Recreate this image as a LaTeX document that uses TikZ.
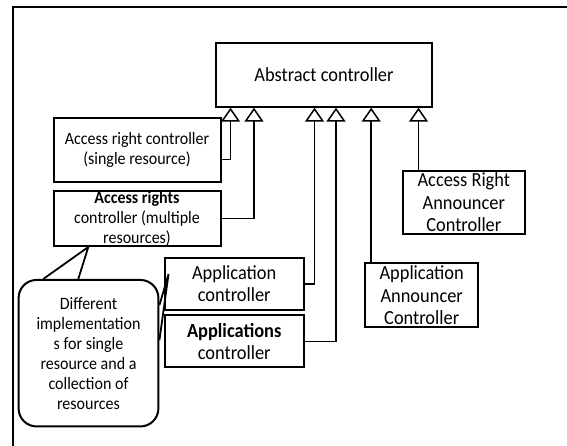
\documentclass[tikz,border=0pt]{standalone}
\usepackage{fontspec}
\setmainfont[FakeStretch=0.92]{Carlito}
\usetikzlibrary{arrows.meta}

\begin{document}
\begin{tikzpicture}[x=1pt,y=-1pt]
	\tikzstyle{ctrl}=[draw,line width=2pt,align=center,inner sep=0pt,font=\fontsize{20}{22.5}\selectfont]
	\tikzstyle{small}=[font=\fontsize{17.4}{20}\selectfont]
	\tikzstyle{callout}=[ctrl,small,rounded corners=18pt]
	\tikzstyle{inh}=[line width=1.5pt,-{Triangle[open,length=14pt 0,width=19pt 0]}]

	\useasboundingbox (0,0) rectangle (567,445);
	\draw[line width=2pt] (13,6.7) rectangle (600,480);

	\node[ctrl,minimum width=216pt,minimum height=64pt] (abstract) at (324,74.7) {Abstract controller};
	\node[ctrl,small,minimum width=167pt,minimum height=64pt] (single) at (137,149.7) {Access right controller\\(single resource)};
	\node[ctrl,small,minimum width=167pt,minimum height=54pt] (multi) at (137,218.7) {\textbf{Access rights}\\controller (multiple\\resources)};
	\node[ctrl,minimum width=139.3pt,minimum height=51.6pt] (appc) at (234.2,283.8) {Application\\controller};
	\node[ctrl,minimum width=139.3pt,minimum height=52.3pt] (appsc) at (234.2,341.3) {\textbf{Applications}\\controller};
	\node[ctrl,minimum width=112.5pt,minimum height=63.7pt] (appann) at (421.7,295.2) {Application\\Announcer\\Controller};
	\node[ctrl,minimum width=122.4pt,minimum height=63.3pt] (arann) at (463.8,202.3) {Access Right\\Announcer\\Controller};
	\node[callout,minimum width=139.8pt,minimum height=146.5pt] (note) at (88.5,353.2) {Different\\implementation\\s for single\\resource and a\\collection of\\resources};

	% inheritance
	\draw[inh] ([yshift=-9.6pt]single.east) -| ([xshift=-93.5pt]abstract.south);
	\draw[inh] (multi.east) -| ([xshift=-70pt]abstract.south);
	\draw[inh] (appc.east) -| ([xshift=-9.5pt]abstract.south);
	\draw[inh] (appsc.east) -| ([xshift=12pt]abstract.south);
	\draw[inh] ([xshift=-50.5pt]appann.north) -- ([xshift=47.2pt]abstract.south);
	\draw[inh] ([xshift=-45.3pt]arann.north) -- ([xshift=94.5pt]abstract.south);

	% callout pointers
	\coordinate (tipa) at ([xshift=-48.7pt]multi.south);
	\coordinate (tipb) at ([xshift=5pt,yshift=9.8pt]appc.west);
	\draw[line width=1.8pt] ([xshift=-45.2pt]note.north) -- (tipa) -- ([xshift=-10.2pt]note.north);
	\draw[line width=1.8pt] ([yshift=48pt]note.east) -- (tipb) -- ([yshift=13pt]note.east);
\end{tikzpicture}
\end{document}
